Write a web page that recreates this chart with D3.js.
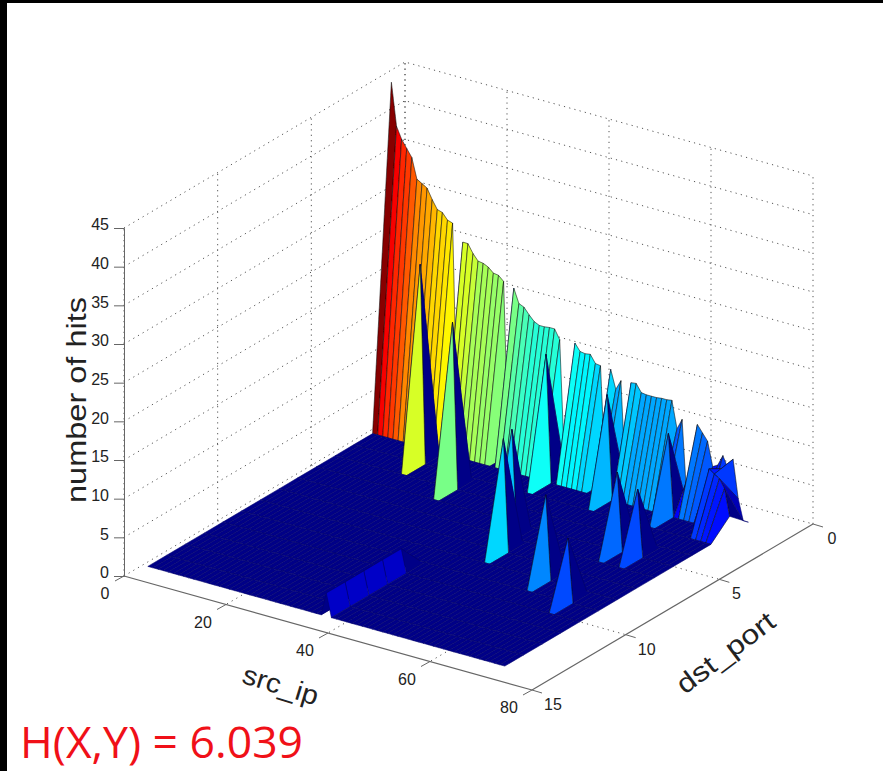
<!DOCTYPE html>
<html><head><meta charset="utf-8">
<script src="https://cdn.jsdelivr.net/npm/d3@7"></script>
<style>
html,body{margin:0;padding:0;background:#fff}
svg{display:block}
text{font-family:"Liberation Sans",Arial,sans-serif;fill:#222}
</style></head><body>
<svg id="chart" width="883" height="771"></svg>
<script>
// ---------- data ----------
const srcIpValues = d3.range(1, 72);
const dstPortValues = d3.range(1, 15);
// hits at dst_port 1 for src_ip 1..71
const hitsPort1 = [44,38.5,37,36,35,32.4,32,31.6,30.3,29.2,29,28.2,28,0,25.9,25.9,24.8,24,23.9,23.6,
  23,22.9,22.3,0,21.8,20,19.7,18.9,18.2,17.9,17.9,18,18,16.8,0,0,16.9,16,15.9,16,
  15,14.9,0,14.8,12.4,13.7,0,13.8,13.9,12.9,12.8,12.8,12.8,12.9,12.9,13,9.5,10.9,0,5.4,
  10.8,9.9,9,5.9,6.3,7.7,6.2,7.6,2.7,0,0];
// isolated peaks elsewhere on the surface
const peakSrc  = [14,24,35,47,59,43,45,57,65,60,64,67,68,69,70,71,36,36,36,36,36];
const peakDst  = [3,4,2,2,2,6,7,8,9,5,5,2,2,2,2,2,10,11,12,13,14];
const peakHits = [25.7,21.5,16.5,13.5,10.7,14,14.6,11,8.3,10.2,8.7,7.6,7.1,6.7,5.6,2.2,3,3,3,3,3];
const zTickValues = [0,5,10,15,20,25,30,35,40,45];
const srcTickValues = [0,20,40,60,80];
const dstTickValues = [0,5,10,15];
const srcTitle = "src_ip", dstTitle = "dst_port", zTitle = "number of hits", entropyLabel = "H(X,Y) = 6.039";

// ---------- oblique projection built from linear scales ----------
const sxX = d3.scaleLinear().domain([0,80]).range([0,408]);
const sxY = d3.scaleLinear().domain([0,80]).range([0,114]);
const dX  = d3.scaleLinear().domain([0,15]).range([405,124]);
const dY  = d3.scaleLinear().domain([0,15]).range([410,576]);
const zY  = d3.scaleLinear().domain([0,45]).range([0,-348]);
const px = (s,d) => sxX(s)+dX(d);
const py = (s,d,z=0) => sxY(s)+dY(d)+zY(z);

function jet(t){
  const c=v=>Math.round(255*Math.max(0,Math.min(1,v)));
  return `rgb(${c(Math.min(4*t-1.5,-4*t+4.5))},${c(Math.min(4*t-.5,-4*t+3.5))},${c(Math.min(4*t+.5,-4*t+2.5))})`;
}
const colour = d3.scaleQuantize().domain([0,44]).range(d3.range(64).map(i=>jet((i+.5)/64)));

const hits = dstPortValues.map(()=>srcIpValues.map(()=>0));
hitsPort1.forEach((v,i)=>{hits[0][i]=v;});
peakSrc.forEach((s,i)=>{hits[peakDst[i]-1][s-1]=peakHits[i];});

const svg = d3.select("#chart");
svg.append("rect").attr("width",883).attr("height",771).attr("fill","#fff");

// ---------- dotted grid ----------
const grid=[];
zTickValues.forEach(z=>{
  grid.push([[0,15,z],[0,0,z],[80,0,z]]);
});
srcTickValues.forEach(s=>{
  grid.push([[s,0,0],[s,0,45]]);
  if(s>0&&s<80) grid.push([[s,0,0],[s,15,0]]);
});
dstTickValues.forEach(d=>{
  grid.push([[0,d,0],[0,d,45]]);
  if(d>0&&d<15) grid.push([[0,d,0],[80,d,0]]);
});
const gridLine=d3.line().x(p=>px(p[0],p[1])).y(p=>py(p[0],p[1],p[2]));
svg.append("g").selectAll("path").data(grid).join("path")
  .attr("d",gridLine).attr("fill","none").attr("stroke","#555")
  .attr("stroke-width",1).attr("stroke-dasharray","1.2 4.2");

// ---------- surface, painted from the back corner forward ----------
const cells=[];
dstPortValues.slice(0,-1).forEach((d,j)=>{
  srcIpValues.slice(0,-1).forEach((s,i)=>{
    cells.push({pts:[[s,d,hits[j][i]],[s+1,d,hits[j][i+1]],[s+1,d+1,hits[j+1][i+1]],[s,d+1,hits[j+1][i]]],c:hits[j][i]});
  });
});
const defs=svg.append("defs");
defs.append("filter").attr("id","soft").attr("x","-5%").attr("y","-5%").attr("width","110%").attr("height","110%")
  .append("feGaussianBlur").attr("stdDeviation",0.5);
const surf=svg.append("g").attr("filter","url(#soft)");
surf.selectAll("path").data(cells).join("path")
  .attr("d",c=>"M"+c.pts.map(p=>[px(p[0],p[1]).toFixed(1),py(p[0],p[1],p[2]).toFixed(1)].join(",")).join("L")+"Z")
  .attr("fill",c=>colour(c.c))
  .attr("stroke",c=>c.c>=5?"#111":"#00006c")
  .attr("stroke-width",0.7)
  .attr("stroke-opacity",.8)
  .attr("stroke-linejoin","round");

// ---------- axes ----------
const axisCol="#666";
const zAxisScale=d3.scaleLinear().domain([0,45]).range([576,228]);
const zAxis=svg.append("g").attr("transform","translate(124,0)")
  .call(d3.axisLeft(zAxisScale).tickValues(zTickValues).tickSize(10).tickPadding(5));
zAxis.selectAll("path,line").attr("stroke",axisCol);
zAxis.selectAll("text").attr("font-size",16).attr("font-family","Liberation Sans").attr("fill","#222").attr("dy","0.12em");

const axisG=svg.append("g");
axisG.append("line").attr("x1",px(0,15)).attr("y1",py(0,15)).attr("x2",px(80,15)).attr("y2",py(80,15)).attr("stroke",axisCol).attr("stroke-width",1.2);
axisG.append("line").attr("x1",px(80,15)).attr("y1",py(80,15)).attr("x2",px(80,0)).attr("y2",py(80,0)).attr("stroke",axisCol).attr("stroke-width",1.2);
srcTickValues.forEach(s=>{
  const x=px(s,15),y=py(s,15);
  axisG.append("line").attr("x1",x).attr("y1",y).attr("x2",x-9).attr("y2",y+5).attr("stroke",axisCol);
  axisG.append("text").attr("x",x-(s?23:19)).attr("y",y+23).attr("text-anchor","middle").attr("font-size",16).text(s);
});
dstTickValues.forEach(d=>{
  const x=px(80,d),y=py(80,d);
  axisG.append("line").attr("x1",x).attr("y1",y).attr("x2",x+10).attr("y2",y+3).attr("stroke",axisCol);
  axisG.append("text").attr("x",x+(d===5?17:d===0?19:21)).attr("y",y+20).attr("text-anchor","middle").attr("font-size",16).text(d);
});
svg.append("text").attr("transform","translate(86,400) rotate(-90)").attr("text-anchor","middle")
  .attr("font-size",27).attr("textLength",206).attr("lengthAdjust","spacingAndGlyphs").text(zTitle);
svg.append("text").attr("transform","translate(278,694) rotate(17)").attr("text-anchor","middle")
  .attr("font-size",27).attr("textLength",78).attr("lengthAdjust","spacingAndGlyphs").text(srcTitle);
svg.append("text").attr("transform","translate(731,660) rotate(-37)").attr("text-anchor","middle")
  .attr("font-size",27).attr("textLength",116).attr("lengthAdjust","spacingAndGlyphs").text(dstTitle);

// ---------- slide frame ----------
svg.append("rect").attr("x",0).attr("y",0).attr("width",883).attr("height",3).attr("fill","#000");
svg.append("rect").attr("x",0).attr("y",0).attr("width",7).attr("height",771).attr("fill","#000");

svg.append("text").attr("x",20).attr("y",758).attr("font-size",43)
  .style("font-family","'Open Sans'").style("font-weight",500).style("fill","#f01018")
  .attr("textLength",283).attr("lengthAdjust","spacingAndGlyphs").text(entropyLabel);
</script>
</body></html>
